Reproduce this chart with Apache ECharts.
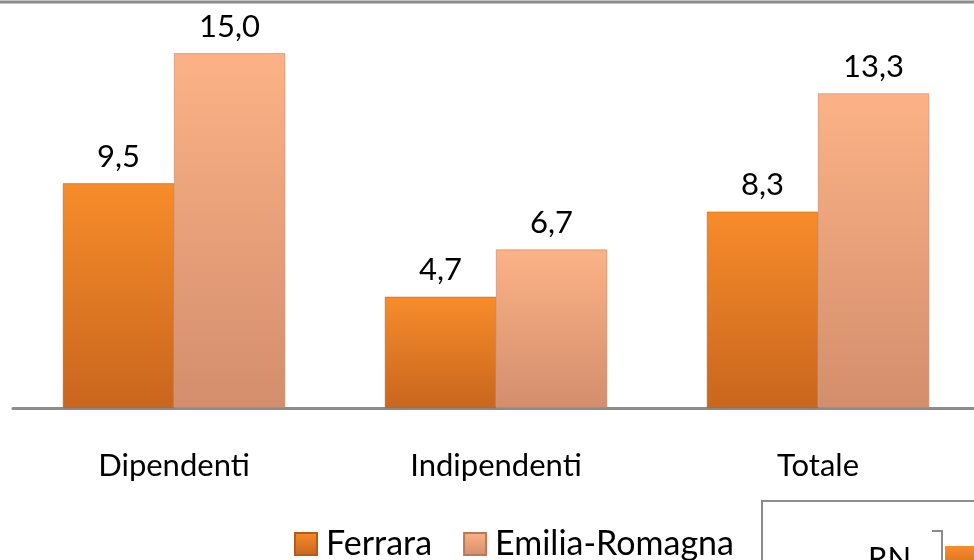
<!DOCTYPE html>
<html>
<head>
<meta charset="utf-8">
<script src="https://cdn.jsdelivr.net/npm/echarts@6/dist/echarts.min.js"></script>
<style>html,body{margin:0;padding:0;background:#fff}#c{width:974px;height:560px}</style>
</head>
<body>
<div id="c"></div>
<script>
const categories = ['Dipendenti', 'Indipendenti', 'Totale'];
const seriesNames = ['Ferrara', 'Emilia-Romagna'];
const ferrara = [9.5, 4.7, 8.3];
const emiliaRomagna = [15.0, 6.7, 13.3];

const FONT = 'Lato, "Open Sans", sans-serif';
function grad(top, bottom) {
  return new echarts.graphic.LinearGradient(0, 0, 0, 1, [
    {offset: 0, color: top}, {offset: 1, color: bottom}
  ]);
}
const ferraraColor = grad('#f78c2b', '#c9661e');
const erColor = grad('#fcb286', '#d38e6d');

const chart = echarts.init(document.getElementById('c'));
const labelCfg = {
  show: true, position: 'top', distance: 11,
  fontFamily: FONT, fontSize: 31, color: '#000',
  formatter: p => p.value.toFixed(1).replace('.', ',')
};
chart.setOption({
  animation: false,
  grid: {left: 13, right: -5, top: 6, height: 402, outerBoundsMode: 'none', containLabel: false},
  legend: {
    left: 294, top: 527, padding: 0, itemWidth: 22, itemHeight: 22, itemGap: 31,
    icon: 'rect',
    textStyle: {fontFamily: FONT, fontSize: 34, color: '#000', padding: [0, 0, 0, 4]},
    data: seriesNames
  },
  xAxis: {
    type: 'category', data: categories,
    axisLine: {lineStyle: {color: '#8c8c8c', width: 3}},
    axisTick: {show: false},
    axisLabel: {margin: 41, fontFamily: FONT, fontSize: 31, color: '#000', lineHeight: 34}
  },
  yAxis: {
    type: 'value', min: 0, max: 17, show: false,
    splitLine: {show: false}
  },
  series: [
    {name: seriesNames[0], type: 'bar', data: ferrara, barGap: '0%', barCategoryGap: '31%',
     itemStyle: {color: ferraraColor, borderColor: '#b65c1b', borderWidth: 0.5}, label: labelCfg},
    {name: seriesNames[1], type: 'bar', data: emiliaRomagna,
     itemStyle: {color: erColor, borderColor: '#b9785a', borderWidth: 0.5}, label: labelCfg}
  ],
  graphic: [
    {type: 'line', shape: {x1: 0, y1: 2, x2: 974, y2: 2}, style: {stroke: '#8c8c8c', lineWidth: 3}},
    {type: 'rect', shape: {x: 762, y: 501, width: 230, height: 80},
     style: {fill: '#fff', stroke: '#8c8c8c', lineWidth: 2}},
    {type: 'text', style: {text: 'RN', x: 868, y: 543, fontFamily: FONT, fontSize: 31, fill: '#000'}},
    {type: 'polyline', shape: {points: [[932, 531], [942, 531], [942, 570]]},
     style: {stroke: '#8c8c8c', lineWidth: 2, fill: null}},
    {type: 'rect', shape: {x: 945, y: 546, width: 40, height: 30},
     style: {fill: ferraraColor}}
  ]
});
</script>
</body>
</html>
